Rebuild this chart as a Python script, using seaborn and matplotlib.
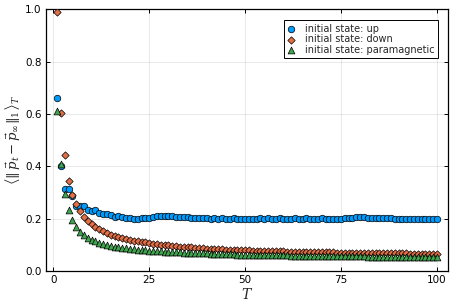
import matplotlib
matplotlib.use("Agg")
import matplotlib.pyplot as plt
import seaborn as sns
import numpy as np
import pandas as pd

T = list(range(1, 101))

up = [0.66, 0.40, 0.313, 0.312, 0.286, 0.250, 0.250, 0.250, 0.233, 0.231,
      0.234, 0.221, 0.217, 0.218, 0.214, 0.208, 0.210, 0.205, 0.204, 0.204,
      0.199, 0.199, 0.202, 0.204, 0.203, 0.206, 0.210, 0.211, 0.211, 0.210,
      0.211, 0.207, 0.205, 0.206, 0.205, 0.203, 0.204, 0.202, 0.203, 0.201,
      0.200, 0.202, 0.200, 0.201, 0.199, 0.200, 0.201, 0.199, 0.198, 0.199,
      0.199, 0.200, 0.199, 0.201, 0.200, 0.201, 0.199, 0.200, 0.201, 0.200,
      0.199, 0.200, 0.201, 0.200, 0.199, 0.201, 0.200, 0.199, 0.200, 0.201,
      0.200, 0.199, 0.200, 0.199, 0.200, 0.201, 0.202, 0.203, 0.205, 0.206,
      0.205, 0.204, 0.204, 0.203, 0.203, 0.202, 0.201, 0.201, 0.200, 0.200,
      0.199, 0.200, 0.199, 0.200, 0.200, 0.199, 0.200, 0.199, 0.200, 0.199]

down = [0.99, 0.605, 0.442, 0.345, 0.292, 0.255, 0.229, 0.208, 0.192, 0.180,
        0.168, 0.160, 0.152, 0.145, 0.139, 0.134, 0.130, 0.126, 0.122, 0.119,
        0.116, 0.113, 0.111, 0.109, 0.107, 0.105, 0.103, 0.101, 0.099, 0.098,
        0.096, 0.095, 0.093, 0.092, 0.091, 0.090, 0.089, 0.088, 0.087, 0.086,
        0.085, 0.085, 0.084, 0.083, 0.082, 0.082, 0.081, 0.080, 0.080, 0.079,
        0.079, 0.078, 0.078, 0.077, 0.077, 0.076, 0.076, 0.076, 0.075, 0.075,
        0.074, 0.074, 0.074, 0.073, 0.073, 0.073, 0.072, 0.072, 0.072, 0.072,
        0.071, 0.071, 0.071, 0.070, 0.070, 0.070, 0.070, 0.069, 0.069, 0.069,
        0.069, 0.069, 0.068, 0.068, 0.068, 0.068, 0.068, 0.067, 0.067, 0.067,
        0.067, 0.067, 0.066, 0.066, 0.066, 0.066, 0.066, 0.066, 0.065, 0.065]

para = [0.61, 0.41, 0.296, 0.234, 0.196, 0.169, 0.149, 0.136, 0.126, 0.119,
        0.113, 0.108, 0.103, 0.099, 0.096, 0.093, 0.091, 0.089, 0.087, 0.085,
        0.083, 0.082, 0.080, 0.079, 0.078, 0.077, 0.076, 0.075, 0.074, 0.073,
        0.072, 0.071, 0.071, 0.070, 0.069, 0.069, 0.068, 0.068, 0.067, 0.067,
        0.066, 0.066, 0.065, 0.065, 0.065, 0.064, 0.064, 0.063, 0.063, 0.063,
        0.062, 0.062, 0.062, 0.061, 0.061, 0.061, 0.061, 0.060, 0.060, 0.060,
        0.060, 0.059, 0.059, 0.059, 0.059, 0.058, 0.058, 0.058, 0.058, 0.058,
        0.057, 0.057, 0.057, 0.057, 0.057, 0.056, 0.056, 0.056, 0.056, 0.056,
        0.056, 0.055, 0.055, 0.055, 0.055, 0.055, 0.055, 0.055, 0.054, 0.054,
        0.054, 0.054, 0.054, 0.054, 0.054, 0.053, 0.053, 0.053, 0.053, 0.053]

labels = ["initial state: up", "initial state: down", "initial state: paramagnetic"]
colors = ["#009AFA", "#E36F47", "#3EA44E"]
markers = ["o", "D", "^"]
sizes = [22, 14, 24]

xticks = [0, 25, 50, 75, 100]
yticks = [0.0, 0.2, 0.4, 0.6, 0.8, 1.0]

sns.set_theme(style="white")
plt.rcParams['font.family'] = ['DejaVu Sans']
plt.rcParams['mathtext.fontset'] = 'dejavuserif'

fig = plt.figure(figsize=(4.58, 3.05), dpi=100)
ax = fig.add_axes([0.0998, 0.1115, 0.879, 0.8574])

for ys, lab, c, m, s in zip([up, down, para], labels, colors, markers, sizes):
    df = pd.DataFrame({"T": T, "v": ys})
    sns.scatterplot(data=df, x="T", y="v", ax=ax, color=c, marker=m, s=s,
                    edgecolor="black", linewidth=0.5, label=lab, zorder=3)

ax.set_xlim(-1.97, 102.97)
ax.set_ylim(0, 1.0)
ax.set_xticks(xticks)
ax.set_yticks(yticks)
ax.set_xticklabels([str(t) for t in xticks])
ax.set_yticklabels([f"{t:.1f}" for t in yticks])
ax.grid(True, color="black", alpha=0.1, linewidth=0.6)
ax.set_axisbelow(True)
for sp in ax.spines.values():
    sp.set_visible(True)
    sp.set_color("black")
    sp.set_linewidth(0.9)
ax.tick_params(axis="both", direction="in", length=3, width=0.7, labelsize=7.5,
               top=True, right=True, bottom=True, left=True, colors="black",
               pad=3)
ax.set_xlabel(r"$T$", fontsize=10, labelpad=1)
ax.set_ylabel(r"$\left\langle \Vert\, \vec{p}_t - \vec{p}_\infty \Vert_1 \right\rangle_T$",
              fontsize=9.5, labelpad=2)

leg = ax.legend(loc="upper right", fontsize=7, frameon=True, fancybox=False,
                edgecolor="black", framealpha=1, borderpad=0.35,
                labelspacing=0.05, handletextpad=1.0, handlelength=0.8,
                borderaxespad=1.1)
leg.get_frame().set_linewidth(0.7)
leg._legend_box.align = "left"

fig.savefig("out.png", dpi=100)
